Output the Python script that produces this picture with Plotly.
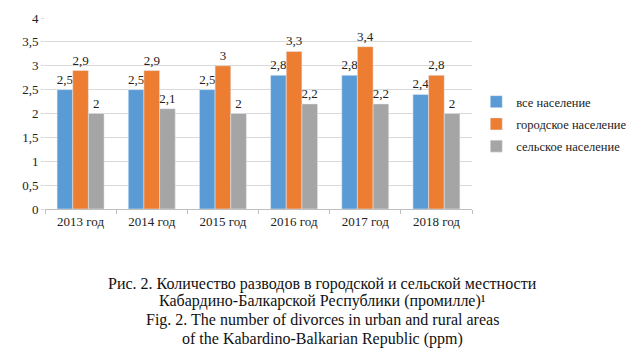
import plotly.graph_objects as go

categories = ["2013 год", "2014 год", "2015 год", "2016 год", "2017 год", "2018 год"]
all_pop = [2.5, 2.5, 2.5, 2.8, 2.8, 2.4]
urban_pop = [2.9, 2.9, 3.0, 3.3, 3.4, 2.8]
rural_pop = [2.0, 2.1, 2.0, 2.2, 2.2, 2.0]
series_names = ["все население", "городское население", "сельское население"]
colors = ["#5B9BD5", "#ED7D31", "#A5A5A5"]
caption_lines = [
    "Рис. 2. Количество разводов в городской и сельской местности",
    "Кабардино-Балкарской Республики (промилле)¹",
    "Fig. 2. The number of divorces in urban and rural areas",
    "of the Kabardino-Balkarian Republic (ppm)",
]

def fmt(v):
    s = ("%g" % v)
    return s.replace(".", ",")

FONT = "'Liberation Serif', 'Times New Roman', Times, serif"

# page body has an 8px default margin; figure is sized to fit the 636x364 window
fig = go.Figure()
for i, (name, vals, col) in enumerate(zip(series_names, [all_pop, urban_pop, rural_pop], colors)):
    fig.add_trace(go.Bar(
        x=categories, y=vals, name=name, marker_color=col,
        legendgroup="g%d" % i,
        text=[fmt(v) for v in vals], textposition="outside",
        constraintext="none", cliponaxis=False,
        textfont=dict(family=FONT, size=13, color="#222"),
    ))

fig.update_layout(
    width=628, height=356,
    margin=dict(l=37, r=164, t=10, b=155, autoexpand=False),
    paper_bgcolor="white", plot_bgcolor="white",
    separators=",.",
    barmode="group", bargap=0.34, bargroupgap=0,
    font=dict(family=FONT, size=13, color="#222"),
    legend=dict(x=1.01, y=0.445, yanchor="middle", xanchor="left",
                font=dict(family=FONT, size=12.5, color="#222"),
                itemwidth=30, tracegroupgap=3),
    showlegend=True,
)
fig.update_yaxes(range=[0, 4], dtick=0.5, showgrid=True, gridcolor="#D9D9D9",
                 gridwidth=1, zeroline=False, showline=False,
                 ticks="outside", ticklen=3, tickcolor="#D9D9D9",
                 tickfont=dict(family=FONT, size=13, color="#222"))
fig.update_xaxes(showline=True, linecolor="#BFBFBF", linewidth=1,
                 ticks="outside", tickson="boundaries", ticklen=4,
                 tickcolor="#BFBFBF",
                 tickfont=dict(family=FONT, size=13, color="#222"))

ys_px = [284, 301, 320, 339]
for line, ypx in zip(caption_lines, ys_px):
    fig.add_annotation(text=line, xref="paper", yref="paper",
                       x=(322 - 45) / 427, y=(209 - ypx) / 191,
                       xanchor="center", yanchor="middle", showarrow=False,
                       font=dict(family=FONT, size=16, color="#111"))

fig.write_html("out.html")
